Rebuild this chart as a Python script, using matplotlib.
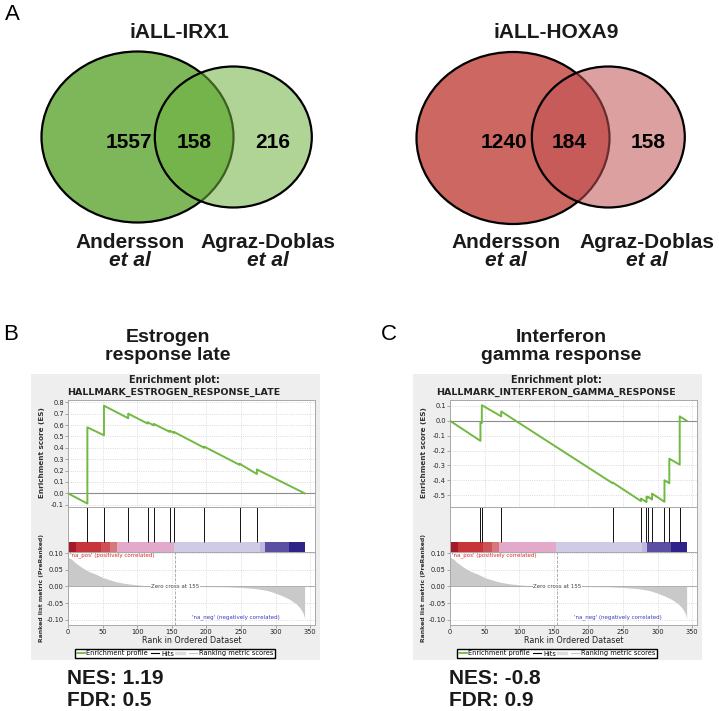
import numpy as np
import matplotlib
matplotlib.use('Agg')
import matplotlib.pyplot as plt
from matplotlib.patches import Ellipse, Rectangle
from matplotlib.lines import Line2D

W, H = 719, 711

# ---- panel A: venn data ----
venn_titles = ['iALL-IRX1', 'iALL-HOXA9']
venn_counts = [[1557, 158, 216], [1240, 184, 158]]
set_names = ['Andersson', 'Agraz-Doblas']

# ---- panels B, C: GSEA data ----
panel_letters = ['B', 'C']
panel_titles = [('Estrogen', 'response late'), ('Interferon', 'gamma response')]
gene_sets = ['HALLMARK_ESTROGEN_RESPONSE_LATE', 'HALLMARK_INTERFERON_GAMMA_RESPONSE']
n_genes = 342

hits_b = [28, 52, 87, 115, 124, 147, 153, 197, 248, 273]
es_before_b = [-0.09, 0.51, 0.66, 0.613, 0.597, 0.54, 0.531, 0.40, 0.25, 0.17]
es_after_b = [0.58, 0.77, 0.70, 0.625, 0.61, 0.55, 0.54, 0.41, 0.26, 0.21]
es_ticks_b = [-0.1, 0.0, 0.1, 0.2, 0.3, 0.4, 0.5, 0.6, 0.7, 0.8]

hits_c = [44, 46, 74, 235, 276, 284, 286, 292, 310, 317, 332]
es_before_c = [-0.135, -0.015, 0.03, -0.42, -0.54, -0.547, -0.517, -0.53, -0.545, -0.42, -0.295]
es_after_c = [-0.01, 0.105, 0.063, -0.415, -0.523, -0.511, -0.51, -0.49, -0.40, -0.255, 0.03]
es_ticks_c = [-0.5, -0.4, -0.3, -0.2, -0.1, 0.0, 0.1]

nes_vals = ['1.19', '-0.8']
fdr_vals = ['0.5', '0.9']

# ranked list metric (same ranked list in both panels)
metric_rank = [0, 5, 10, 20, 30, 40, 50, 60, 70, 80, 90, 100, 110, 120, 130, 140, 155,
               180, 200, 230, 250, 270, 280, 290, 300, 310, 320, 330, 335, 340, 342]
metric_val = [0.087, 0.082, 0.072, 0.057, 0.045, 0.037, 0.027, 0.020, 0.014, 0.010, 0.007,
              0.005, 0.003, 0.002, 0.001, 0.0005, 0.0, -0.0002, -0.0004, -0.001, -0.003,
              -0.006, -0.009, -0.013, -0.020, -0.028, -0.038, -0.052, -0.063, -0.080, -0.095]
metric_ticks = [-0.10, -0.05, 0.0, 0.05, 0.10]

# colour bar under the hits
band_edges = [0, 11, 47, 61, 71, 153, 278, 285, 319, 342]
band_colors = ['#a5192a', '#c73539', '#cc5258', '#d4787c', '#e2a9cb', '#cfcbe6',
               '#bdb8e0', '#5a4fa2', '#2e2388']

TF = 'Liberation Sans'

fig = plt.figure(figsize=(W / 100, H / 100), dpi=100)
bg = fig.add_axes([0, 0, 1, 1])
bg.set_xlim(0, W)
bg.set_ylim(H, 0)
bg.axis('off')


def px_axes(x, y, w, h):
    return fig.add_axes([x / W, 1 - (y + h) / H, w / W, h / H])


# ---- A: venn diagrams ----
bg.text(12, 15, 'A', fontsize=16, family=TF, ha='center', va='center')
venn_geom = [((137.5, 137, 192, 171), (233.3, 137, 157, 141)),
             ((513, 138, 193, 172), (608.3, 137, 153, 141))]
venn_cols = [('#7db75a', '#6fb140'), ('#cd6762', '#c15252')]
num_x = [(129, 194, 272.5), (504, 569, 648.5)]
title_x = [179, 556]
name_x = [(130, 267.5), (506, 646.5)]
for i in range(2):
    big, small = venn_geom[i]
    bg.add_patch(Ellipse(big[:2], big[2], big[3], facecolor=venn_cols[i][0],
                         edgecolor='black', lw=1.6, zorder=1))
    bg.add_patch(Ellipse(small[:2], small[2], small[3], facecolor=venn_cols[i][1],
                         alpha=0.55, edgecolor='none', zorder=2))
    bg.add_patch(Ellipse(small[:2], small[2], small[3], facecolor='none',
                         edgecolor='black', lw=1.6, zorder=3))
    bg.text(title_x[i], 33, venn_titles[i], fontsize=15, fontweight='bold',
            family=TF, ha='center', va='center', color='#1a1a1a')
    for x, c in zip(num_x[i], venn_counts[i]):
        bg.text(x, 142, str(c), fontsize=15, fontweight='bold', family=TF,
                ha='center', va='center', zorder=4)
    for x, nm in zip(name_x[i], set_names):
        bg.text(x, 243, nm, fontsize=15, fontweight='bold', family=TF,
                ha='center', va='center', color='#1a1a1a')
        bg.text(x, 261, 'et al', fontsize=15, fontweight='bold', style='italic',
                family=TF, ha='center', va='center', color='#1a1a1a')


# ---- B, C: GSEA enrichment plots ----
def es_curve(hits, before, after):
    xs, ys = [0], [0.0]
    for h, b, a in zip(hits, before, after):
        xs += [h, h]
        ys += [b, a]
    xs.append(n_genes)
    ys.append(0.0)
    return xs, ys


def style(ax):
    for s in ax.spines.values():
        s.set_color('#a8a8a8')
        s.set_linewidth(0.7)
    ax.tick_params(labelsize=4.8, length=2, width=0.5, color='#888888', pad=1,
                   labelcolor='#222222')


panels = [(hits_b, es_before_b, es_after_b, (-0.12, 0.82), es_ticks_b),
          (hits_c, es_before_c, es_after_c, (-0.58, 0.14), es_ticks_c)]
ax_left = [68, 450]
letter_x = [11, 389]
title_cx = [168, 561]
xmax = 357

for k in range(2):
    x0 = ax_left[k]
    hits, eb, ea, ylim, yt = panels[k]

    bg.add_patch(Rectangle((x0 - 37, 374), 289, 286, facecolor='#eeeeee',
                           edgecolor='none', zorder=0))
    bg.text(letter_x[k], 335, panel_letters[k], fontsize=16, family=TF,
            ha='center', va='center')
    bg.text(title_cx[k], 342, panel_titles[k][0], fontsize=14, fontweight='bold',
            family=TF, ha='center', va='baseline', color='#1a1a1a')
    bg.text(title_cx[k], 360, panel_titles[k][1], fontsize=14, fontweight='bold',
            family=TF, ha='center', va='baseline', color='#1a1a1a')
    bg.text(x0 + 106, 380, 'Enrichment plot:', fontsize=6.9, fontweight='bold',
            ha='center', va='center', color='#222222')
    bg.text(x0 + 106, 392, gene_sets[k], fontsize=6.8, fontweight='bold',
            ha='center', va='center', color='#222222')
    bg.text(x0 - 26, 453, 'Enrichment score (ES)', fontsize=5.2, fontweight='bold',
            rotation=90, ha='center', va='center', color='#333333')
    bg.text(x0 - 26, 588, 'Ranked list metric (PreRanked)', fontsize=4.4,
            fontweight='bold', rotation=90, ha='center', va='center', color='#333333')

    # running enrichment score
    ax1 = px_axes(x0, 400, 247, 107)
    xs, ys = es_curve(hits, eb, ea)
    ax1.plot(xs, ys, color='#72b943', lw=1.4, zorder=3)
    ax1.axhline(0, color='#8c8c8c', lw=0.8, zorder=2)
    ax1.set_xlim(0, xmax)
    ax1.set_ylim(*ylim)
    ax1.set_yticks(yt)
    ax1.set_yticklabels(['%.1f' % v for v in yt])
    ax1.set_xticks(range(0, 351, 50))
    ax1.set_xticklabels([])
    ax1.grid(True, color='#d0d0d0', ls=':', lw=0.6)
    style(ax1)
    ax1.tick_params(axis='x', length=0)

    # hits and colour bar
    ax2 = px_axes(x0, 507, 247, 45)
    ax2.vlines(hits, 0.23, 1, color='#111111', lw=0.7)
    for j in range(len(band_colors)):
        ax2.bar(band_edges[j], 0.23, band_edges[j + 1] - band_edges[j], align='edge',
                color=band_colors[j], lw=0)
    ax2.set_xlim(0, xmax)
    ax2.set_ylim(0, 1)
    ax2.set_xticks([])
    ax2.set_yticks([])
    style(ax2)

    # ranked list metric
    ax3 = px_axes(x0, 552, 247, 73)
    ax3.fill_between(metric_rank, metric_val, 0, color='#c9c9c9', lw=0)
    ax3.axhline(0, color='#b0b0b0', lw=0.7)
    ax3.axvline(155, color='#a0a0a0', lw=0.6, ls='--')
    ax3.set_xlim(0, xmax)
    ax3.set_ylim(-0.115, 0.103)
    ax3.set_xticks(range(0, 351, 50))
    ax3.set_yticks(metric_ticks)
    ax3.set_yticklabels(['%.2f' % v for v in metric_ticks])
    ax3.grid(True, color='#d0d0d0', ls=':', lw=0.6)
    style(ax3)
    ax3.set_xlabel('Rank in Ordered Dataset', fontsize=5.8, labelpad=0.5, color='#222222')
    ax3.text(3, 0.094, "'na_pos' (positively correlated)", fontsize=4.0,
             color='#d42a2a', va='center')
    ax3.text(155, 0.0, 'Zero cross at 155', fontsize=4.0, color='#404040',
             ha='center', va='center', bbox=dict(fc='white', ec='none', pad=0.3))
    ax3.text(243, -0.093, "'na_neg' (negatively correlated)", fontsize=4.0,
             color='#3b3bbd', ha='center', va='center')

    handles = [Line2D([], [], color='#72b943', lw=1.3),
               Line2D([], [], color='black', lw=0.8),
               Line2D([], [], color='#dddddd', lw=2.5),
               Line2D([], [], color='#c8c8c8', lw=0.8)]
    labels = ['Enrichment profile', 'Hits', '', 'Ranking metric scores']
    fig.legend(handles, labels, loc='center', bbox_to_anchor=((x0 + 107) / W, 1 - 653.5 / H),
               ncol=4, fontsize=4.8, frameon=True, fancybox=False, edgecolor='black',
               handlelength=1.2, handletextpad=0.3, columnspacing=0.4, borderpad=0.25,
               framealpha=1)

    bg.text(x0 - 1, 678, 'NES: ' + nes_vals[k], fontsize=15, fontweight='bold',
            family=TF, ha='left', va='center', color='#1a1a1a')
    bg.text(x0 - 1, 700, 'FDR: ' + fdr_vals[k], fontsize=15, fontweight='bold',
            family=TF, ha='left', va='center', color='#1a1a1a')

fig.savefig('out.png', dpi=100)
